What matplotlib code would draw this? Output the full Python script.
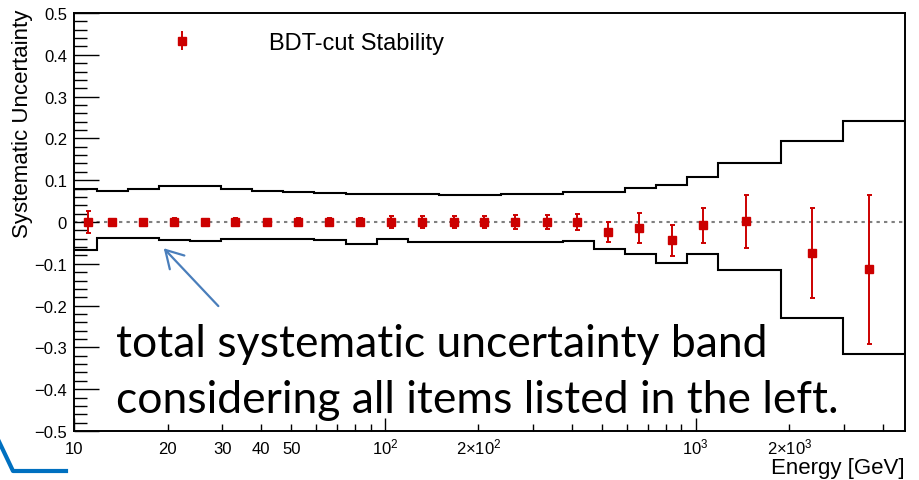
import numpy as np
import matplotlib.pyplot as plt
from matplotlib.lines import Line2D
from matplotlib.ticker import LogLocator, FuncFormatter, MultipleLocator
from matplotlib.legend_handler import HandlerErrorbar
from matplotlib.container import ErrorbarContainer

plt.rcParams['font.family'] = ['Liberation Sans', 'DejaVu Sans']
plt.rcParams['mathtext.fontset'] = 'custom'
plt.rcParams['mathtext.rm'] = 'Liberation Sans'
plt.rcParams['mathtext.it'] = 'Liberation Sans:italic'
plt.rcParams['mathtext.bf'] = 'Liberation Sans:bold'

# total systematic band (step histogram), bin edges in GeV
band_edges = [10, 11.84, 14.91, 18.77, 23.63, 29.75, 37.45, 47.15, 59.36, 74.73,
              94.08, 118.4, 149.1, 187.7, 236.3, 297.5, 374.5, 471.5, 593.5,
              747.2, 940.7, 1184, 1491, 1877, 2363, 2975, 3745, 4715]
band_up = [0.080, 0.075, 0.079, 0.085, 0.085, 0.078, 0.0745, 0.072, 0.070,
           0.067, 0.067, 0.067, 0.064, 0.064, 0.068, 0.068, 0.071, 0.071,
           0.081, 0.0895, 0.108, 0.142, 0.142, 0.193, 0.193, 0.242, 0.242]
band_lo = [-0.067, -0.039, -0.039, -0.044, -0.046, -0.041, -0.041, -0.041, -0.044,
           -0.053, -0.041, -0.0486, -0.0486, -0.0486, -0.0486, -0.0486, -0.045,
           -0.064, -0.076, -0.097, -0.076, -0.114, -0.114, -0.230, -0.230,
           -0.316, -0.316]

# BDT-cut stability points
energy = [11.13, 13.24, 16.62, 20.96, 26.36, 33.03, 41.66, 52.53, 66.29, 82.97,
          104.4, 132.0, 166.5, 208.0, 263.0, 331.7, 415.3, 524.0, 656.0, 842.1,
          1052, 1450, 2364, 3614]
stability = [0, 0, 0, 0, 0, 0, 0, 0, 0, 0, 0, 0, 0, 0, 0, 0, 0.0, -0.025,
             -0.015, -0.044, -0.008, 0.002, -0.075, -0.113]
stab_err = [0.027, 0.004, 0.004, 0.01, 0.005, 0.01, 0.005, 0.01, 0.01, 0.01,
            0.015, 0.015, 0.015, 0.015, 0.017, 0.017, 0.02, 0.024, 0.036, 0.037,
            0.042, 0.0635, 0.1075, 0.178]

major_labels = {10: '10', 100: r'$10^{2}$', 1000: r'$10^{3}$'}
minor_labels = {20: '20', 30: '30', 40: '40', 50: '50',
                200: r'$2{\times}10^{2}$', 2000: r'$2{\times}10^{3}$'}

red = '#cc0000'

fig = plt.figure(figsize=(9.19, 4.81), dpi=100)
ax = fig.add_axes([0.0805, 0.1019, 0.9043, 0.869])

ax.axhline(0, color='#808080', lw=1.5, dashes=(1.6, 2.0), zorder=1)
ax.stairs(band_up, band_edges, color='black', lw=1.5, zorder=2)
ax.stairs(band_lo, band_edges, color='black', lw=1.5, zorder=2)
ax.errorbar(energy, stability, yerr=stab_err, fmt='s', color=red, ms=6,
            elinewidth=1.4, capsize=1.8, capthick=1.4, zorder=3)

ax.set_xscale('log')
ax.set_xlim(10, 4715)
ax.set_ylim(-0.5, 0.5)

ax.xaxis.set_major_locator(LogLocator(base=10))
ax.xaxis.set_minor_locator(LogLocator(base=10, subs=np.arange(2, 10)))
ax.xaxis.set_major_formatter(FuncFormatter(lambda v, p: major_labels.get(int(round(v)), '')))
ax.xaxis.set_minor_formatter(FuncFormatter(lambda v, p: minor_labels.get(int(round(v)), '')))
ax.yaxis.set_major_locator(MultipleLocator(0.1))
ax.yaxis.set_minor_locator(MultipleLocator(0.02))


def yfmt(v, p):
    if abs(v) < 1e-9:
        return '0'
    return f'{v:.1f}'.replace('-', '\u2212')


ax.yaxis.set_major_formatter(FuncFormatter(yfmt))

ax.tick_params(axis='y', which='major', direction='in', length=18, width=1,
               labelsize=12, pad=5)
ax.tick_params(axis='y', which='minor', direction='in', length=9, width=1)
ax.tick_params(axis='x', which='major', direction='in', length=9.4, width=1,
               labelsize=12, pad=16)
ax.tick_params(axis='x', which='minor', direction='in', length=5, width=1,
               labelsize=12, pad=16)
for s in ax.spines.values():
    s.set_linewidth(1.4)

ax.set_ylabel('Systematic Uncertainty', fontsize=16, loc='top')
ax.yaxis.set_label_coords(-0.049, 1.01)
ax.set_xlabel('Energy [GeV]', fontsize=16, loc='right')
ax.xaxis.set_label_coords(1.0, -0.063)

proxy = ax.errorbar([np.nan], [np.nan], yerr=[0.0], fmt='s', color=red, ms=6,
                    elinewidth=1.4, capsize=0)
ax.legend([proxy], ['BDT-cut Stability'], loc='center left',
          bbox_to_anchor=(0.0794, 0.928), frameon=False, fontsize=17,
          handlelength=3.6, handletextpad=1.85, borderpad=0, borderaxespad=0,
          handler_map={ErrorbarContainer: HandlerErrorbar(yerr_size=0.4)})

ax.annotate('', xy=(19.17, -0.058), xytext=(29.55, -0.206),
            arrowprops=dict(arrowstyle='->,head_length=1.24,head_width=0.72',
                            color='#4a7ebb', lw=1.6))

fig.text(0.126, 1 - 357 / 481, 'total systematic uncertainty band',
         fontsize=32, family=['Lato', 'DejaVu Sans'], va='baseline')
fig.text(0.126, 1 - 413 / 481, 'considering all items listed in the left.',
         fontsize=32, family=['Lato', 'DejaVu Sans'], va='baseline')

fig.add_artist(Line2D([-0.005, 13 / 919, 66 / 919],
                      [1 - 435 / 481, 1 - 472 / 481, 1 - 472 / 481],
                      color='#0070c0', lw=3))

fig.canvas.draw()
for t in ax.xaxis.get_major_ticks() + ax.xaxis.get_minor_ticks():
    t.label1.set_verticalalignment('baseline')

fig.savefig('out.png', dpi=100)
